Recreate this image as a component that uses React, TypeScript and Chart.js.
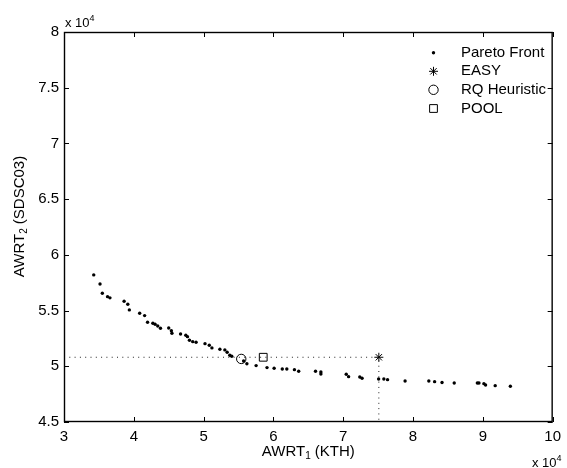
import React, { useEffect, useRef } from 'react';
import { Chart, registerables } from 'chart.js';
import { drawPoint } from 'chart.js/helpers';

Chart.register(...registerables);

const FONT = '"Liberation Sans", Arial, Helvetica, sans-serif';

// Axis ranges / ticks (raw units; labels shown in units of 10^4)
const xMin = 30000;
const xMax = 100000;
const yMin = 45000;
const yMax = 80000;
const xTickValues = [30000, 40000, 50000, 60000, 70000, 80000, 90000, 100000];
const yTickValues = [45000, 50000, 55000, 60000, 65000, 70000, 75000, 80000];

// Pareto front (AWRT_1 KTH, AWRT_2 SDSC03)
const paretoX = [
  34260, 35160, 35490, 36240, 36580, 38610, 39140, 39360, 40840, 41550,
  41970, 42730, 43050, 43430, 43820, 45000, 45380, 45460, 46700, 47450,
  47690, 47970, 48440, 48920, 50200, 50810, 51190, 52330, 53040, 53370,
  53750, 54030, 55730, 56200, 57520, 59080, 60100, 61270, 61920, 63010,
  63620, 66030, 66800, 66800, 70430, 70770, 72370, 72700, 75070, 75820,
  76350, 78860, 82260, 83090, 84150, 85900, 89210, 89440, 90150, 90390,
  91770, 93940,
];
const paretoY = [
  58200, 57390, 56560, 56250, 56140, 55840, 55570, 55060, 54760, 54550,
  53950, 53860, 53770, 53620, 53410, 53440, 53200, 52970, 52900, 52790,
  52660, 52340, 52210, 52160, 52030, 51890, 51650, 51530, 51470, 51260,
  50990, 50900, 50480, 50230, 50060, 49880, 49820, 49760, 49760, 49700,
  49550, 49550, 49490, 49310, 49280, 49070, 49040, 48920, 48860, 48860,
  48800, 48680, 48680, 48620, 48550, 48500, 48500, 48500, 48440, 48320,
  48260, 48210,
];

const easyPoint = { x: 75100, y: 50810 };
const rqPoint = { x: 55390, y: 50660 };
const poolPoint = { x: 58540, y: 50810 };

const legendLabels = ['Pareto Front', 'EASY', 'RQ Heuristic', 'POOL'];
const legendStyles = [
  { pointStyle: 'circle', radius: 1.7, filled: true },
  { pointStyle: 'star', radius: 4.5, filled: false },
  { pointStyle: 'circle', radius: 4.7, filled: false },
  { pointStyle: 'rect', radius: 5.5, filled: false },
];

type Part = { text: string; size: number; dy: number };

function measureParts(ctx: CanvasRenderingContext2D, parts: Part[]) {
  let w = 0;
  for (const p of parts) {
    ctx.font = `${p.size}px ${FONT}`;
    w += ctx.measureText(p.text).width;
  }
  return w;
}

function drawParts(ctx: CanvasRenderingContext2D, parts: Part[], x: number, y: number) {
  let cx = x;
  ctx.textAlign = 'left';
  ctx.textBaseline = 'alphabetic';
  for (const p of parts) {
    ctx.font = `${p.size}px ${FONT}`;
    ctx.fillText(p.text, cx, y + p.dy);
    cx += ctx.measureText(p.text).width;
  }
}

const decorPlugin = {
  id: 'decor',
  afterDraw(chart: any) {
    const { ctx, chartArea: a, scales } = chart;
    const xs = scales.x;
    const ys = scales.y;
    ctx.save();
    ctx.strokeStyle = '#000';
    ctx.lineWidth = 1.4;
    // frame
    ctx.strokeRect(a.left + 0.5, a.top + 0.5, a.right - a.left - 1, a.bottom - a.top - 1);
    // inward ticks on all four sides
    const tl = 5;
    ctx.lineWidth = 1;
    ctx.beginPath();
    for (const v of xTickValues) {
      const px = Math.round(xs.getPixelForValue(v)) + 0.5;
      ctx.moveTo(px, a.bottom);
      ctx.lineTo(px, a.bottom - tl);
      ctx.moveTo(px, a.top);
      ctx.lineTo(px, a.top + tl);
    }
    for (const v of yTickValues) {
      const py = Math.round(ys.getPixelForValue(v)) + 0.5;
      ctx.moveTo(a.left, py);
      ctx.lineTo(a.left + tl, py);
      ctx.moveTo(a.right, py);
      ctx.lineTo(a.right - tl, py);
    }
    ctx.stroke();

    ctx.fillStyle = '#000';
    // x title
    const xParts: Part[] = [
      { text: 'AWRT', size: 15, dy: 0 },
      { text: '1', size: 10, dy: 3 },
      { text: ' (KTH)', size: 15, dy: 0 },
    ];
    const xw = measureParts(ctx, xParts);
    drawParts(ctx, xParts, (a.left + a.right) / 2 - xw / 2, 456);

    // y title (rotated)
    const yParts: Part[] = [
      { text: 'AWRT', size: 15, dy: 0 },
      { text: '2', size: 10, dy: 3 },
      { text: ' (SDSC03)', size: 15, dy: 0 },
    ];
    const yw = measureParts(ctx, yParts);
    ctx.save();
    ctx.translate(24, 216.5);
    ctx.rotate(-Math.PI / 2);
    drawParts(ctx, yParts, -yw / 2, 0);
    ctx.restore();

    // exponent labels
    const expParts: Part[] = [
      { text: 'x 10', size: 13, dy: 0 },
      { text: '4', size: 9, dy: -6 },
    ];
    drawParts(ctx, expParts, 65, 26.5);
    drawParts(ctx, expParts, 532, 466.5);

    // legend
    const rows = [52.7, 71.3, 89.8, 108.5];
    const mx = 433.5;
    const tx = 461;
    legendLabels.forEach((label, i) => {
      const st = legendStyles[i];
      ctx.save();
      ctx.strokeStyle = '#000';
      ctx.fillStyle = st.filled ? '#000' : 'rgba(0,0,0,0)';
      ctx.lineWidth = 1;
      drawPoint(ctx, { pointStyle: st.pointStyle as any, radius: st.radius, rotation: 0, borderWidth: st.filled ? 0 : 1 } as any, mx, rows[i]);
      ctx.restore();
      ctx.fillStyle = '#000';
      ctx.font = `15px ${FONT}`;
      ctx.textAlign = 'left';
      ctx.textBaseline = 'middle';
      ctx.fillText(label, tx, rows[i]);
    });
    ctx.restore();
  },
};

export default function App() {
  const ref = useRef<HTMLCanvasElement>(null);
  useEffect(() => {
    document.body.style.margin = '0';
    const pareto = paretoX.map((x, i) => ({ x, y: paretoY[i] }));
    const guide = [
      { x: xMin, y: easyPoint.y },
      { x: easyPoint.x, y: easyPoint.y },
      { x: easyPoint.x, y: yMin },
    ];
    const chart = new Chart(ref.current as HTMLCanvasElement, {
      type: 'scatter',
      data: {
        datasets: [
          {
            label: 'guide',
            data: guide,
            showLine: true,
            borderColor: '#222',
            borderWidth: 1,
            borderDash: [1, 4.3],
            pointRadius: 0,
            fill: false,
          } as any,
          {
            label: legendLabels[0],
            data: pareto,
            pointStyle: 'circle',
            pointRadius: legendStyles[0].radius,
            backgroundColor: '#000',
            borderColor: '#000',
            borderWidth: 0,
          },
          {
            label: legendLabels[1],
            data: [easyPoint],
            pointStyle: 'star',
            pointRadius: legendStyles[1].radius,
            backgroundColor: 'rgba(0,0,0,0)',
            borderColor: '#000',
            borderWidth: 1,
          },
          {
            label: legendLabels[2],
            data: [rqPoint],
            pointStyle: 'circle',
            pointRadius: legendStyles[2].radius,
            backgroundColor: 'rgba(0,0,0,0)',
            borderColor: '#000',
            borderWidth: 1,
          },
          {
            label: legendLabels[3],
            data: [poolPoint],
            pointStyle: 'rect',
            pointRadius: legendStyles[3].radius,
            backgroundColor: 'rgba(0,0,0,0)',
            borderColor: '#000',
            borderWidth: 1,
          },
        ],
      },
      options: {
        animation: false,
        responsive: false,
        devicePixelRatio: 1,
        layout: { padding: { left: 0, top: 32, right: 9, bottom: 0 } },
        plugins: {
          legend: { display: false },
          tooltip: { enabled: false },
          title: { display: false },
        },
        scales: {
          x: {
            type: 'linear',
            min: xMin,
            max: xMax,
            grid: { display: false, drawTicks: false },
            border: { display: false },
            afterBuildTicks: (s: any) => {
              s.ticks = xTickValues.map((v) => ({ value: v }));
            },
            afterFit: (s: any) => {
              s.height = 46;
            },
            ticks: {
              color: '#000',
              font: { family: FONT, size: 15 },
              padding: 6,
              maxRotation: 0,
              autoSkip: false,
              callback: (v: any) => String(Number(v) / 10000),
            },
          },
          y: {
            type: 'linear',
            min: yMin,
            max: yMax,
            grid: { display: false, drawTicks: false },
            border: { display: false },
            afterBuildTicks: (s: any) => {
              s.ticks = yTickValues.map((v) => ({ value: v }));
            },
            afterFit: (s: any) => {
              s.width = 64;
            },
            ticks: {
              color: '#000',
              font: { family: FONT, size: 15 },
              padding: 5,
              autoSkip: false,
              callback: (v: any) => String(Number(v) / 10000),
            },
          },
        },
      },
      plugins: [decorPlugin],
    });
    return () => chart.destroy();
  }, []);
  return (
    <div style={{ width: 567, height: 468 }}>
      <canvas ref={ref} width={567} height={468} style={{ display: 'block' }} />
    </div>
  );
}
